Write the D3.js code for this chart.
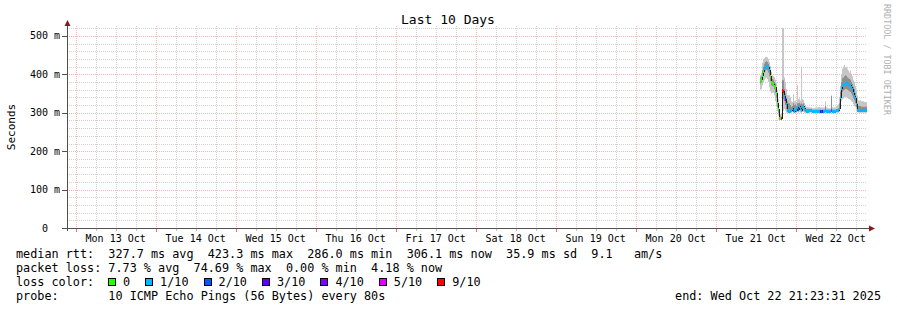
<!DOCTYPE html>
<html>
<head>
<meta charset="utf-8">
<script src="https://cdn.jsdelivr.net/npm/d3@7"></script>
<style>
body { margin: 0; background: #fff; }
text { font-family: "DejaVu Sans Mono", monospace; fill: #000; }
</style>
</head>
<body>
<svg id="chart" width="897" height="310"></svg>
<script>
// time window: the 10 days ending at the probe's last update
const endTime = Date.UTC(2025, 9, 22, 21, 23, 31);
const startTime = endTime - 10 * 24 * 3600e3;
const baseDay = Date.UTC(2025, 9, 21); // sample hours are counted from Tue 21 Oct 00:00

// samples (hours after baseDay), values in ms
const sampleHours = [13.3, 13.6, 13.9, 14.2, 14.5, 14.8, 15.1, 15.4, 15.7, 16.0,
  16.3, 16.6, 16.9, 17.2, 17.5, 17.8, 18.1, 18.4, 18.7, 19.0,
  19.3, 19.6, 19.9, 20.2, 20.5, 20.8, 21.1, 21.4, 21.7, 22.0,
  22.3, 22.6, 22.9, 23.2, 23.5, 23.8, 24.1, 24.4, 24.7, 25.0,
  25.3, 25.6, 25.9, 26.2, 26.5, 26.8, 27.1, 28.0, 28.9, 29.8,
  30.7, 31.3, 31.6, 31.9, 32.2, 32.8, 33.1, 33.7, 34.6, 34.9,
  36.1, 36.7, 37.0, 37.3, 37.6, 37.9, 38.2, 38.5, 38.8, 39.1,
  39.4, 39.7, 40.0, 40.3, 40.6, 40.9, 41.2, 41.5, 41.8, 42.1,
  42.4, 42.7, 43.6, 44.5];
const medianMs = [385, 388, 398, 408, 416, 420, 423, 423, 420, 412,
  396, 381, 378, 376, 370, 366, 352, 325, 310, 286,
  286, 286, 359, 357, 344, 336, 323, 307, 305, 305,
  305, 306, 312, 308, 305, 310, 306, 314, 310, 318,
  313, 308, 316, 318, 312, 307, 305, 306, 305, 305,
  305, 305, 305, 305, 305, 306, 305, 305, 306, 305,
  306, 307, 312, 340, 365, 372, 375, 376, 378, 380,
  378, 375, 373, 372, 368, 362, 352, 345, 338, 322,
  308, 306, 307, 306];
const smokeMin = [360, 362, 372, 380, 386, 390, 392, 388, 380, 366,
  356, 350, 352, 352, 345, 330, 318, 304, 292, 282,
  282, 282, 300, 305, 310, 305, 300, 300, 300, 300,
  300, 300, 302, 300, 300, 300, 300, 302, 300, 302,
  300, 300, 302, 302, 300, 300, 300, 300, 300, 300,
  300, 300, 300, 300, 300, 300, 300, 300, 300, 300,
  300, 300, 302, 310, 330, 335, 338, 340, 342, 340,
  338, 336, 335, 333, 330, 328, 322, 318, 315, 308,
  302, 300, 300, 300];
const smokeLow = [376, 379, 388, 398, 405, 410, 412, 410, 405, 395,
  382, 372, 370, 368, 362, 352, 340, 315, 300, 284,
  284, 284, 330, 335, 330, 320, 310, 303, 302, 302,
  302, 302, 306, 304, 302, 304, 302, 306, 304, 308,
  306, 304, 306, 308, 304, 303, 302, 302, 302, 302,
  302, 302, 302, 302, 302, 302, 302, 302, 303, 302,
  302, 303, 306, 325, 350, 355, 358, 360, 362, 362,
  360, 358, 356, 354, 350, 345, 338, 332, 325, 315,
  306, 303, 303, 303];
const smokeHigh = [392, 396, 410, 420, 428, 432, 434, 432, 428, 420,
  406, 392, 388, 386, 380, 376, 364, 340, 322, 292,
  290, 290, 385, 385, 362, 350, 340, 330, 325, 325,
  320, 315, 318, 325, 320, 322, 318, 325, 325, 326,
  322, 325, 322, 324, 318, 312, 310, 308, 308, 308,
  308, 308, 308, 308, 308, 318, 308, 308, 344, 308,
  310, 312, 325, 355, 380, 390, 392, 395, 398, 396,
  392, 390, 388, 386, 380, 375, 368, 362, 352, 340,
  325, 318, 316, 316];
const smokeMax = [398, 404, 430, 438, 442, 445, 446, 444, 440, 432,
  422, 406, 398, 395, 392, 386, 376, 356, 336, 300,
  296, 298, 521, 521, 392, 380, 362, 346, 346, 346,
  340, 330, 328, 348, 330, 332, 328, 372, 335, 338,
  332, 420, 335, 334, 326, 320, 316, 314, 312, 314,
  315, 314, 314, 314, 314, 330, 314, 312, 346, 314,
  318, 322, 340, 370, 400, 415, 420, 425, 418, 420,
  415, 410, 405, 410, 400, 395, 385, 380, 370, 360,
  345, 332, 330, 328];
const lossTenths = [0, 0, 0, 0, 1, 1, 1, 1, 1, 1,
  0, 0, 0, 0, 0, 0, 0, 0, 0, 0,
  0, 9, 9, 9, 1, 3, 1, 1, 1, 1,
  1, 1, 1, 2, 1, 1, 1, 1, 2, 1,
  1, 1, 1, 1, 1, 1, 1, 1, 1, 1,
  1, 3, 2, 3, 1, 1, 1, 1, 5, 1,
  1, 1, 1, 1, 1, 1, 1, 1, 1, 1,
  1, 1, 1, 1, 1, 1, 1, 1, 1, 1,
  1, 1, 1, 1];

const lossLevels = [0, 1, 2, 3, 4, 5, 9];
const lossLabels = ["0", "1/10", "2/10", "3/10", "4/10", "5/10", "9/10"];
const lossColors = ["#26ff00", "#00b8ff", "#0059ff", "#5e00ff", "#7e00ff", "#dd00ff", "#ff0000"];

const yTicks = [0, 100, 200, 300, 400, 500];
const yTop = 520.8;

const titleText = "Last 10 Days";
const unitText = "Seconds";
const rttLegend = "median rtt:  327.7 ms avg  423.3 ms max  286.0 ms min  306.1 ms now  35.9 ms sd  9.1   am/s";
const lossLegend = "packet loss: 7.73 % avg  74.69 % max  0.00 % min  4.18 % now";
const lossTitle = "loss color:";
const probeLegend = "probe:       10 ICMP Echo Pings (56 Bytes) every 80s";
const endLabel = "end: Wed Oct 22 21:23:31 2025";

// layout
var plot = {left: 67, right: 867, top: 28, bottom: 228};
var c_minor = "#d2d2d2", c_major = "#f9b4b4", c_axis = "#505050", c_arrow = "#8a1a1a";

var svg = d3.select("#chart");

var x = d3.scaleUtc()
    .domain([startTime, endTime])
    .range([plot.left, plot.right]);

var y = d3.scaleLinear()
    .domain([0, yTop])
    .range([plot.bottom, plot.top]);

var rows = sampleHours.map(function(h, i) {
  return {t: baseDay + h * 3600e3, med: medianMs[i], lo: smokeMin[i], q1: smokeLow[i],
          q3: smokeHigh[i], hi: smokeMax[i], loss: lossTenths[i]};
});
// step curves need a closing point at the end of the last interval
var stepRows = rows.concat([Object.assign({}, rows[rows.length - 1], {t: endTime})]);

// grid
var grid = svg.append("g").attr("shape-rendering", "crispEdges");
var minorX = x.ticks(d3.utcHour.every(6)).filter(function(d) { return d.getUTCHours() != 0; });
var majorX = x.ticks(d3.utcDay);
var minorY = d3.range(20, yTop, 20).filter(function(v) { return v % 100 != 0; });
var majorY = yTicks.filter(function(v) { return v > 0; });

function vgrid(data, colour) {
  grid.selectAll(null).data(data).enter().append("line")
      .attr("x1", function(d) { return Math.round(x(d)) + 0.5; })
      .attr("x2", function(d) { return Math.round(x(d)) + 0.5; })
      .attr("y1", plot.top - 2).attr("y2", plot.bottom)
      .style("stroke", colour).style("stroke-dasharray", "1,1");
}
function hgrid(data, colour) {
  grid.selectAll(null).data(data).enter().append("line")
      .attr("x1", plot.left).attr("x2", plot.right)
      .attr("y1", function(d) { return Math.round(y(d)) + 0.5; })
      .attr("y2", function(d) { return Math.round(y(d)) + 0.5; })
      .style("stroke", colour).style("stroke-dasharray", "1,1");
}
vgrid(minorX, c_minor);
hgrid(minorY, c_minor);
vgrid(majorX, c_major);
hgrid(majorY, c_major);

// smoke
var outerSmoke = d3.area().curve(d3.curveStepAfter)
    .x(function(d) { return x(d.t); })
    .y0(function(d) { return y(d.lo); })
    .y1(function(d) { return y(d.hi); });
var innerSmoke = d3.area().curve(d3.curveStepAfter)
    .x(function(d) { return x(d.t); })
    .y0(function(d) { return y(d.q1); })
    .y1(function(d) { return y(d.q3); });
svg.append("path").datum(stepRows).attr("d", outerSmoke).style("fill", "#c6c6c6");
svg.append("path").datum(stepRows).attr("d", innerSmoke).style("fill", "#8e8e8e");

// median line
var medLine = d3.line().curve(d3.curveStepAfter)
    .x(function(d) { return x(d.t); })
    .y(function(d) { return Math.round(y(d.med)) + 0.5; });
svg.append("path").datum(stepRows).attr("d", medLine)
    .style("fill", "none").style("stroke", "#202020").style("stroke-width", 1)
    .attr("shape-rendering", "crispEdges");

// loss colour bands on the median
var lossColor = d3.scaleOrdinal().domain(lossLevels).range(lossColors);
svg.append("g").attr("shape-rendering", "crispEdges")
  .selectAll("rect").data(rows).enter().append("rect")
    .attr("x", function(d) { return x(d.t); })
    .attr("width", function(d, i) { return x(stepRows[i + 1].t) - x(d.t); })
    .attr("y", function(d) { return Math.round(y(d.med)) - 1; })
    .attr("height", 3)
    .style("fill", function(d) { return lossColor(d.loss); });

// axes
var axes = svg.append("g").attr("shape-rendering", "crispEdges");
axes.append("line").attr("x1", plot.left - 5).attr("x2", plot.right + 4)
    .attr("y1", plot.bottom + 0.5).attr("y2", plot.bottom + 0.5).style("stroke", c_axis);
axes.append("line").attr("x1", plot.left + 0.5).attr("x2", plot.left + 0.5)
    .attr("y1", plot.bottom + 3).attr("y2", plot.top - 5).style("stroke", c_axis);
axes.selectAll(".ytick").data(yTicks).enter().append("line")
    .attr("x1", plot.left - 5).attr("x2", plot.left)
    .attr("y1", function(d) { return Math.round(y(d)) + 0.5; })
    .attr("y2", function(d) { return Math.round(y(d)) + 0.5; })
    .style("stroke", c_axis);
axes.selectAll(".xminortick").data(minorX).enter().append("line")
    .attr("x1", function(d) { return Math.round(x(d)) + 0.5; })
    .attr("x2", function(d) { return Math.round(x(d)) + 0.5; })
    .attr("y1", plot.bottom + 1).attr("y2", plot.bottom + 3)
    .style("stroke", "#c0c0c0");
axes.selectAll(".xmajortick").data(majorX).enter().append("line")
    .attr("x1", function(d) { return Math.round(x(d)) + 0.5; })
    .attr("x2", function(d) { return Math.round(x(d)) + 0.5; })
    .attr("y1", plot.bottom + 1).attr("y2", plot.bottom + 4)
    .style("stroke", "#f07070");

// arrows
svg.append("path")
    .attr("d", "M" + (plot.left - 2.5) + "," + (plot.top - 2) + "L" + (plot.left + 3.5) + "," + (plot.top - 2) +
               "L" + (plot.left + 0.5) + "," + (plot.top - 8) + "Z")
    .style("fill", c_arrow);
svg.append("path")
    .attr("d", "M" + (plot.right + 2) + "," + (plot.bottom - 2.5) + "L" + (plot.right + 2) + "," + (plot.bottom + 3.5) +
               "L" + (plot.right + 8) + "," + (plot.bottom + 0.5) + "Z")
    .style("fill", c_arrow);

// tick labels
svg.selectAll(".ylab").data(yTicks).enter().append("text")
    .attr("x", 60)
    .attr("y", function(d) { return y(d) + 3.5; })
    .attr("text-anchor", "end")
    .style("font-size", "10px")
    .style("white-space", "pre")
    .text(function(d) { return d == 0 ? "0  " : d + " m"; });

var dayFormat = d3.utcFormat("%a %d %b");
var noonX = majorX.map(function(d) { return new Date(+d + 12 * 3600e3); })
    .filter(function(d) { return +d < endTime; });
svg.selectAll(".xlab").data(noonX).enter().append("text")
    .attr("x", function(d) { return x(d); })
    .attr("y", 241.5)
    .attr("text-anchor", "middle")
    .style("font-size", "10px")
    .text(function(d) { return dayFormat(d); });

// title, unit, watermark
svg.append("text").attr("x", 448).attr("y", 24).attr("text-anchor", "middle")
    .style("font-size", "13px").text(titleText);
svg.append("text").attr("transform", "translate(15,127) rotate(-90)").attr("text-anchor", "middle")
    .style("font-size", "11px").text(unitText);
svg.append("text").attr("transform", "translate(884,4) rotate(90)")
    .style("font-size", "8.4px").style("fill", "#b0b0b0").text("RRDTOOL / TOBI OETIKER");

// legend
var legendSize = "11.8px";
function legendLine(str, baseline) {
  svg.append("text").attr("x", 16).attr("y", baseline)
      .style("font-size", legendSize).style("white-space", "pre").text(str);
}
legendLine(rttLegend, 258);
legendLine(lossLegend, 272);
legendLine(lossTitle, 286);
legendLine(probeLegend, 300);

var bx = 108;
lossLevels.forEach(function(lv, i) {
  svg.append("rect").attr("x", bx + 0.5).attr("y", 278.5).attr("width", 7).attr("height", 7)
      .style("fill", lossColor(lv)).style("stroke", "#000").attr("shape-rendering", "crispEdges");
  var t = svg.append("text").attr("x", bx + 15).attr("y", 286)
      .style("font-size", legendSize).text(lossLabels[i]);
  bx = bx + 15 + t.node().getComputedTextLength() + 15;
});

svg.append("text").attr("x", 881).attr("y", 300).attr("text-anchor", "end")
    .style("font-size", legendSize).text(endLabel);
</script>
</body>
</html>
